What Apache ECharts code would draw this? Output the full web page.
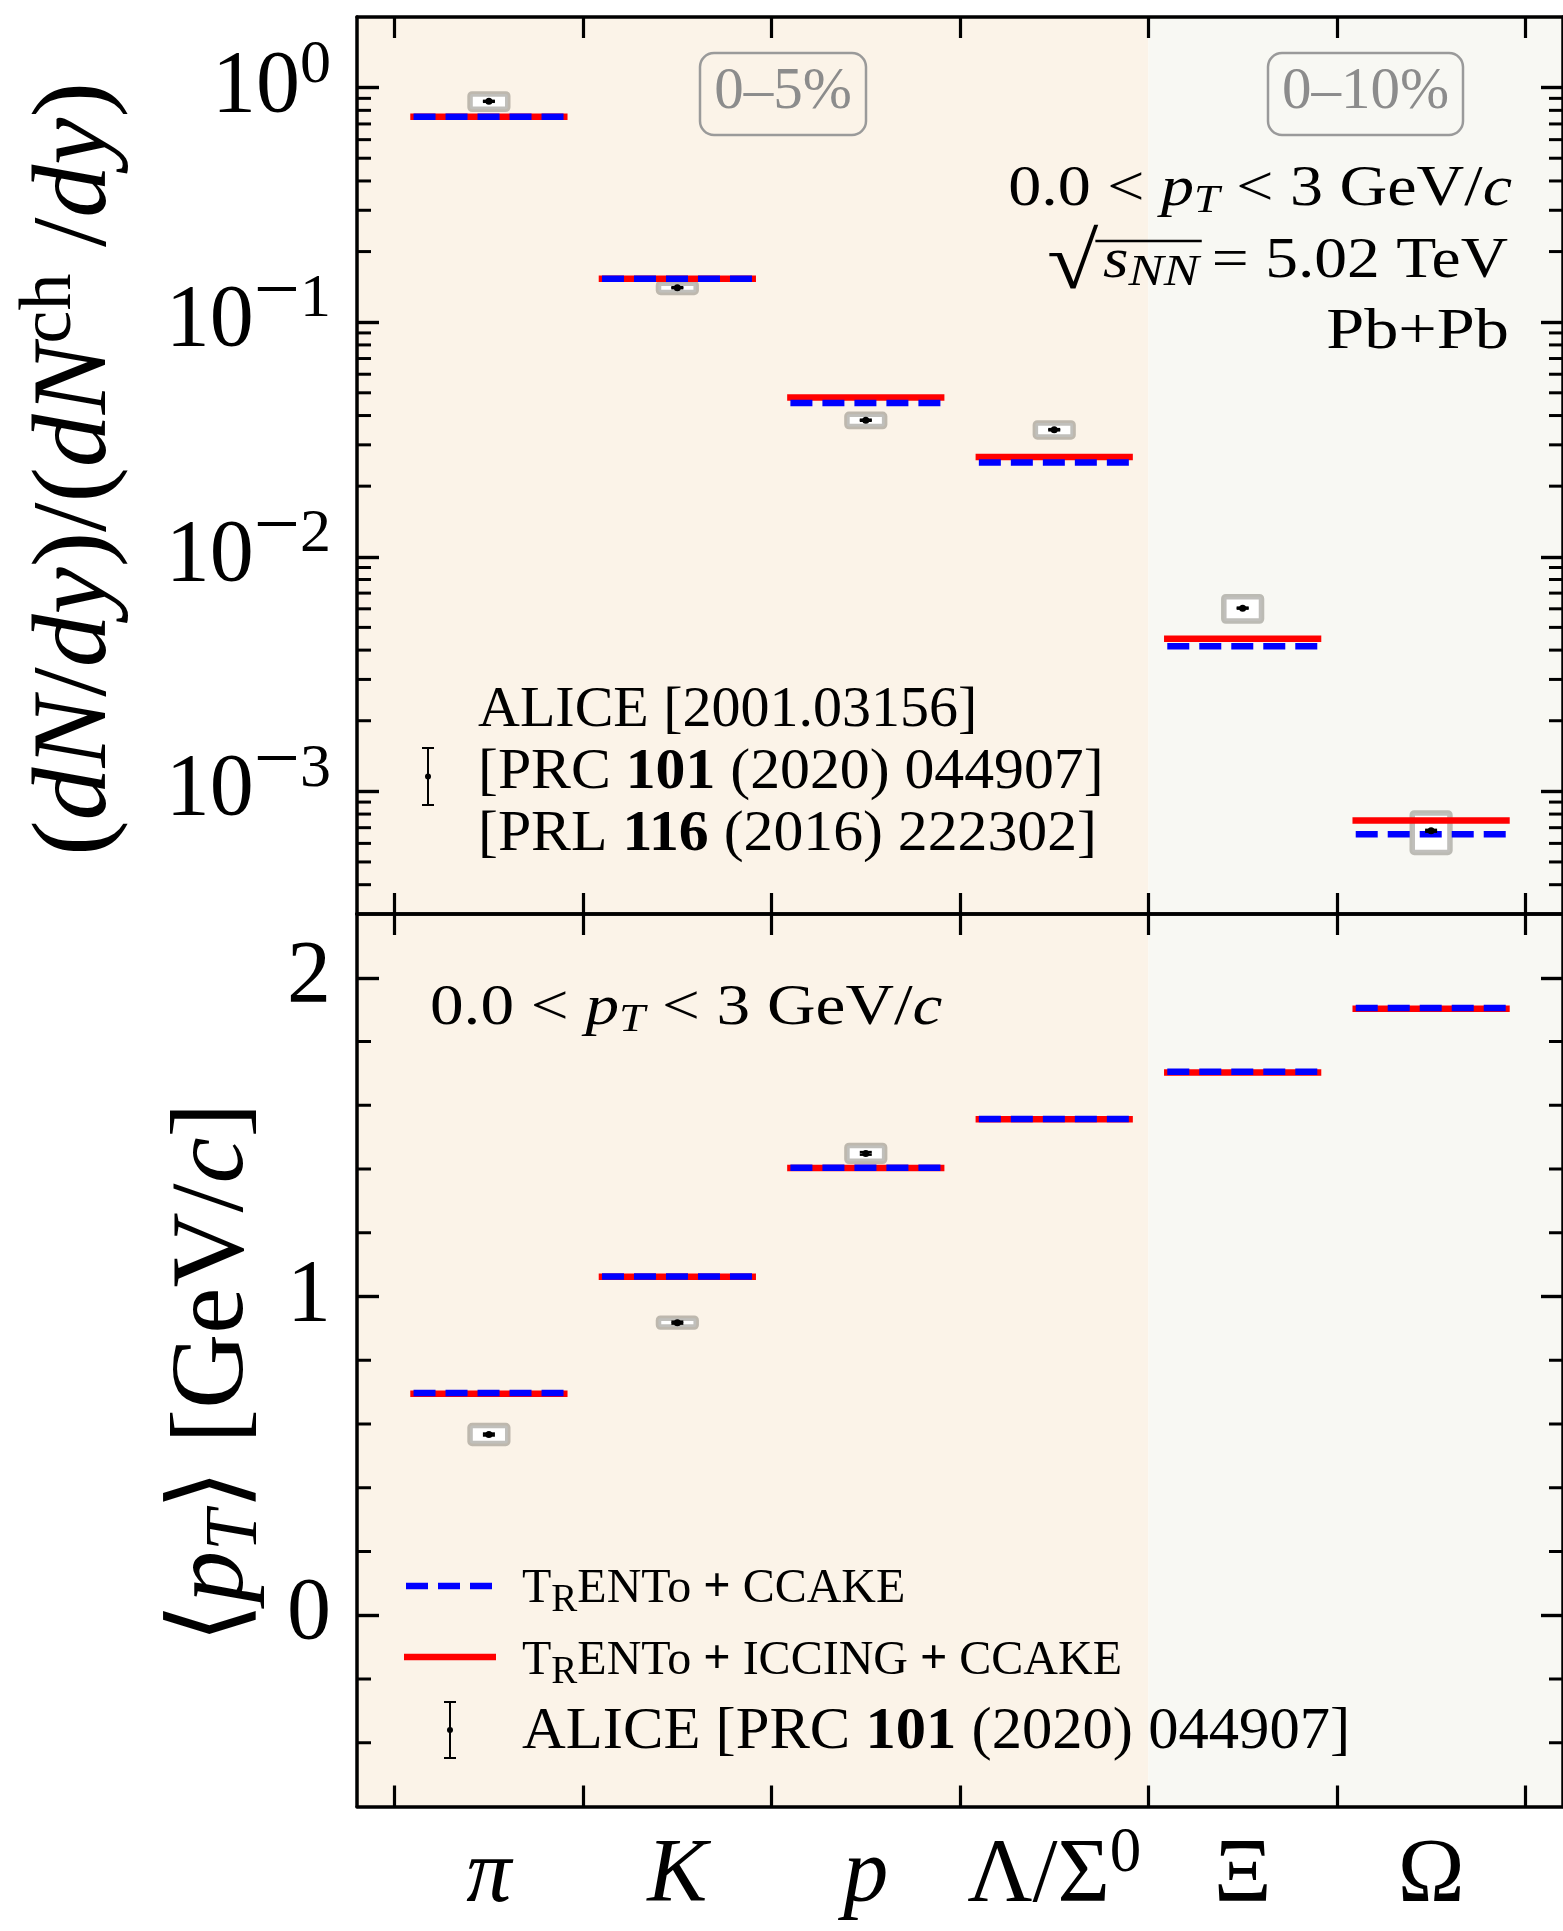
<!DOCTYPE html>
<html>
<head>
<meta charset="utf-8">
<script src="https://cdn.jsdelivr.net/npm/echarts@6/dist/echarts.min.js"></script>
<style>
  html, body { margin: 0; padding: 0; background: #ffffff; }
  #chart { width: 1563px; height: 1931px; }
</style>
</head>
<body>
<div id="chart"></div>
<script>
// ---- Hadron species: bin i spans [i, i+1] on the x axis ----
const speciesLabels = ['{it|π}', '{it|K}', '{it|p}', '{rm|Λ/Σ}{sup|0}', '{rm|Ξ}', '{rm|Ω}'];
const xTicks = [0, 1, 2, 3, 4, 5, 6];

// ---- Yield ratios (dN/dy)/(dN^ch/dy) ----
const yieldIccing = [0.752, 0.153, 0.0478, 0.0266, 0.00447, 0.000751];
const yieldTrento = [0.752, 0.153, 0.0452, 0.0252, 0.00415, 0.000657];
const yieldAlice = [0.874, 0.1403, 0.0382, 0.0348, 0.00604, 0.000679];
const yieldAliceSys = [0.066, 0.0063, 0.0023, 0.0024, 0.00072, 0.00013];
const yieldAliceStat = [0.004, 0.0006, 0.0002, 0.0002, 0.00003, 0.000006];

// ---- Mean transverse momentum <pT> [GeV/c] ----
const meanPtIccing = [0.695, 1.062, 1.403, 1.556, 1.703, 1.903];
const meanPtTrento = [0.697, 1.063, 1.404, 1.557, 1.705, 1.905];
const meanPtAlice = [0.567, 0.918, 1.449];
const meanPtAliceSys = [0.028, 0.014, 0.025];
const meanPtAliceStat = [0.003, 0.003, 0.004];

// ---- Axis ticks ----
const logMajorTicks = [1e-3, 1e-2, 1e-1, 1];
const logMinorTicks = [4e-4, 5e-4, 6e-4, 7e-4, 8e-4, 9e-4,
  2e-3, 3e-3, 4e-3, 5e-3, 6e-3, 7e-3, 8e-3, 9e-3,
  2e-2, 3e-2, 4e-2, 5e-2, 6e-2, 7e-2, 8e-2, 9e-2,
  0.2, 0.3, 0.4, 0.5, 0.6, 0.7, 0.8, 0.9];
const linMajorTicks = [0, 1, 2];
const linMinorTicks = [-0.4, -0.2, 0.2, 0.4, 0.6, 0.8, 1.2, 1.4, 1.6, 1.8];

// ---- Centrality classes shading the x range ----
const centralityBands = [[-0.2, 4], [4, 6.2]];
const bandFills = ['#fbf3e8', '#f8f8f3'];

const SERIF = "'Liberation Serif', 'DejaVu Serif', serif";

// Rich-text styles for math-like labels. Graphic elements take `fill`, axis labels `color`.
function richSet(size, useFill, color) {
  color = color || '#000';
  const c = useFill ? { fill: color } : { color: color };
  const lh = Math.round(size * 1.3);
  const small = Math.round(size * 0.7);
  const base = Object.assign({ fontFamily: SERIF, fontSize: size, lineHeight: lh }, c);
  return {
    rm: Object.assign({}, base),
    it: Object.assign({}, base, { fontStyle: 'italic' }),
    itS: Object.assign({}, base, { fontStyle: 'italic', padding: [0, 0, 0, Math.round(size * 0.08)] }),
    bf: Object.assign({}, base, { fontWeight: 'bold' }),
    sub: Object.assign({}, base, { fontSize: small, padding: [Math.round(size * 0.42), 0, 0, 0] }),
    subR: Object.assign({}, base, { fontSize: Math.round(size * 0.82), padding: [Math.round(size * 0.5), 0, 0, 0] }),
    itsub: Object.assign({}, base, { fontSize: small, fontStyle: 'italic', padding: [Math.round(size * 0.42), 0, 0, 0] }),
    itsubL: Object.assign({}, base, { fontSize: Math.round(size * 0.8), fontStyle: 'italic', padding: [Math.round(size * 0.4), 0, 0, 0] }),
    sup: Object.assign({}, base, { fontSize: small, padding: [0, 0, Math.round(size * 0.5), 0] }),
    supMinus: Object.assign({}, base, { fontSize: Math.round(size * 0.93), padding: [0, 0, Math.round(size * 0.62), 0] }),
    sq: Object.assign({}, base, { fontSize: Math.round(size * 1.43), padding: [Math.round(size * 0.16), 0, 0, 0] })
  };
}

// ---- Axes (frame with inward major ticks on all four sides) ----
const frameLine = { show: true, onZero: false, lineStyle: { color: '#000', width: 3.5 } };
const xAxes = [];
[0, 1].forEach(function (g) {
  ['bottom', 'top'].forEach(function (pos) {
    const withLabels = g === 1 && pos === 'bottom';
    xAxes.push({
      type: 'value', gridIndex: g, position: pos, min: -0.2, max: 6.2, z: 10,
      axisLine: frameLine,
      axisTick: { show: true, inside: true, length: 21, customValues: xTicks, lineStyle: { color: '#000', width: 3.2 } },
      axisLabel: withLabels ? {
        show: true, margin: 12,
        customValues: speciesLabels.map(function (_, i) { return i + 0.5; }),
        formatter: function (v) { return speciesLabels[Math.round(v - 0.5)]; },
        rich: richSet(90, false)
      } : { show: false },
      splitLine: { show: false }
    });
  });
});

function logLabel(v) {
  const e = Math.round(Math.log10(v));
  return e === 0 ? '{rm|10}{sup|0}' : '{rm|10}{supMinus|−}{sup|' + (-e) + '}';
}

const yAxes = [];
[0, 1].forEach(function (g) {
  const isLog = g === 0;
  const common = isLog
    ? { type: 'log', logBase: 10, min: 3e-4, max: 2 }
    : { type: 'value', min: -0.6, max: 2.2 };
  const major = isLog ? logMajorTicks : linMajorTicks;
  ['left', 'right'].forEach(function (pos) {
    yAxes.push(Object.assign({}, common, {
      gridIndex: g, position: pos, z: 10,
      axisLine: frameLine,
      axisTick: { show: true, inside: true, length: 22, customValues: major, lineStyle: { color: '#000', width: 3.4 } },
      axisLabel: pos === 'left' ? {
        show: true, margin: 26, customValues: major,
        formatter: isLog ? logLabel : function (v) { return '{rm|' + v + '}'; },
        rich: richSet(88, false)
      } : { show: false },
      splitLine: { show: false }
    }));
  });
});

// ---- Series builders ----
function bandSeries(g) {
  const yRef = g === 0 ? 1 : 0;
  return {
    type: 'custom', xAxisIndex: g * 2, yAxisIndex: g * 2, z: 1, silent: true,
    data: centralityBands,
    renderItem: function (params, api) {
      const cs = params.coordSys;
      const x0 = api.coord([api.value(0), yRef])[0];
      const x1 = api.coord([api.value(1), yRef])[0];
      return { type: 'rect', shape: { x: x0, y: cs.y, width: x1 - x0, height: cs.height },
               style: { fill: bandFills[params.dataIndex] } };
    }
  };
}

function modelSeries(g, values, style, z) {
  return {
    type: 'custom', xAxisIndex: g * 2, yAxisIndex: g * 2, z: z, silent: true,
    data: values.map(function (v, i) { return [i, v]; }),
    renderItem: function (params, api) {
      const i = api.value(0), v = api.value(1);
      const a = api.coord([i + 0.1, v]), b = api.coord([i + 0.9, v]);
      return { type: 'line', shape: { x1: a[0], y1: a[1], x2: b[0], y2: b[1] }, style: style };
    }
  };
}

function sysBoxSeries(g, values, sys) {
  return {
    type: 'custom', xAxisIndex: g * 2, yAxisIndex: g * 2, z: 2, silent: true,
    data: values.map(function (v, i) { return [i, v, sys[i]]; }),
    renderItem: function (params, api) {
      const i = api.value(0), v = api.value(1), s = api.value(2);
      const tl = api.coord([i + 0.4, v + s]), br = api.coord([i + 0.6, v - s]);
      return { type: 'rect', shape: { x: tl[0], y: tl[1], width: br[0] - tl[0], height: br[1] - tl[1], r: 2 },
               style: { fill: '#ffffff', stroke: 'rgba(115,112,105,0.45)', lineWidth: 5.5 } };
    }
  };
}

function errorBarSeries(g, values, stat) {
  return {
    type: 'custom', xAxisIndex: g * 2, yAxisIndex: g * 2, z: 6, silent: true,
    data: values.map(function (v, i) { return [i, v, stat[i]]; }),
    renderItem: function (params, api) {
      const i = api.value(0), v = api.value(1), s = api.value(2);
      const c = api.coord([i + 0.5, v]);
      const up = api.coord([i + 0.5, v + s]), dn = api.coord([i + 0.5, v - s]);
      return { type: 'group', children: [
        { type: 'line', shape: { x1: c[0], y1: up[1], x2: c[0], y2: dn[1] }, style: { stroke: '#000', lineWidth: 2.5 } },
        { type: 'line', shape: { x1: c[0] - 6, y1: up[1], x2: c[0] + 6, y2: up[1] }, style: { stroke: '#000', lineWidth: 2.5 } },
        { type: 'line', shape: { x1: c[0] - 6, y1: dn[1], x2: c[0] + 6, y2: dn[1] }, style: { stroke: '#000', lineWidth: 2.5 } },
        { type: 'circle', shape: { cx: c[0], cy: c[1], r: 3.5 }, style: { fill: '#000' } }
      ] };
    }
  };
}

const redStyle = { stroke: '#ff0000', lineWidth: 6.5, lineCap: 'square' };
const blueStyle = { stroke: '#0000ff', lineWidth: 6.5, lineCap: 'butt', lineDash: [22, 10] };

const series = [
  bandSeries(0), bandSeries(1),
  sysBoxSeries(0, yieldAlice, yieldAliceSys), sysBoxSeries(1, meanPtAlice, meanPtAliceSys),
  modelSeries(0, yieldIccing, redStyle, 3), modelSeries(1, meanPtIccing, redStyle, 3),
  modelSeries(0, yieldTrento, blueStyle, 4), modelSeries(1, meanPtTrento, blueStyle, 4),
  errorBarSeries(0, yieldAlice, yieldAliceStat), errorBarSeries(1, meanPtAlice, meanPtAliceStat)
];

// ---- Text, legends and annotations ----
function text(x, y, str, size, opts) {
  opts = opts || {};
  return {
    type: 'text', x: x, y: y, z: 20, silent: true,
    rotation: opts.rotation || 0, scaleX: opts.scaleX || 1,
    style: { text: str, align: opts.align || 'left', verticalAlign: 'middle',
             rich: richSet(size, true, opts.color), fontFamily: SERIF, fontSize: size }
  };
}
function seg(x1, y1, x2, y2, style) {
  return { type: 'line', z: 20, silent: true, shape: { x1: x1, y1: y1, x2: x2, y2: y2 }, style: style };
}
function errIcon(x, y0, y1) {
  const st = { stroke: '#000', lineWidth: 2 };
  return [
    seg(x, y0, x, y1, st), seg(x - 6, y0, x + 6, y0, st), seg(x - 6, y1, x + 6, y1, st),
    { type: 'circle', z: 20, silent: true, shape: { cx: x, cy: (y0 + y1) / 2, r: 3 }, style: { fill: '#000' } }
  ];
}
function tagBox(x0, y0, x1, y1, label) {
  return [
    { type: 'rect', z: 20, silent: true, shape: { x: x0, y: y0, width: x1 - x0, height: y1 - y0, r: 14 },
      style: { fill: 'none', stroke: '#9a9a9a', lineWidth: 2.5 } },
    text((x0 + x1) / 2, (y0 + y1) / 2 - 2, '{rm|' + label + '}', 59, { align: 'center', color: '#8c8c8c' })
  ];
}

// Collision-energy label: the radical's bar is placed from measured glyph widths
const measureCtx = document.createElement('canvas').getContext('2d');
function textWidth(font, s) { measureCtx.font = font; return measureCtx.measureText(s).width; }
const eSize = 56, eLeft = 1047, eRight = 1508;
const eTail = '\u2009= 5.02 TeV';
const wSq = textWidth(Math.round(eSize * 1.43) + 'px ' + SERIF, '√');
const wS = textWidth('italic ' + eSize + 'px ' + SERIF, 's') + Math.round(eSize * 0.08);
const wNN = textWidth('italic ' + Math.round(eSize * 0.8) + 'px ' + SERIF, 'NN');
const wTail = textWidth(eSize + 'px ' + SERIF, eTail);
const eScale = (eRight - eLeft) / (wSq + wS + wNN + wTail);
const barStart = eLeft + wSq * eScale - 3;
const barEnd = eLeft + (wSq + wS + wNN) * eScale + 3;

const graphic = [].concat(
  [
    text(77, 469, '{rm|(}{it|dN}{rm|/}{it|dy}{rm|)/(}{it|dN}{sup|ch}{rm| /}{it|dy}{rm|)}', 106,
         { rotation: Math.PI / 2, align: 'center' }),
    text(215, 1373, '{rm|⟨}{it|p}{itsub|T}{rm|⟩ [GeV/}{it|c}{rm|]}', 104,
         { rotation: Math.PI / 2, align: 'center' }),

    text(1512, 190, '{rm|0.0 < }{it|p}{itsub|T}{rm| < 3 GeV/}{it|c}', 56, { align: 'right', scaleX: 1.18 }),
    text(eLeft, 262, '{sq|√}{itS|s}{itsubL|NN}{rm|' + eTail + '}', eSize, { scaleX: eScale }),
    seg(barStart, 241, barEnd, 241, { stroke: '#000', lineWidth: 2.5 }),
    text(1509, 333, '{rm|Pb+Pb}', 56, { align: 'right', scaleX: 1.22 }),

    text(430, 1009, '{rm|0.0 < }{it|p}{itsub|T}{rm| < 3 GeV/}{it|c}', 56, { scaleX: 1.2 }),

    text(478, 711, '{rm|ALICE [2001.03156]}', 58),
    text(478, 773, '{rm|[PRC }{bf|101}{rm| (2020) 044907]}', 58, { scaleX: 1.03 }),
    text(478, 835, '{rm|[PRL }{bf|116}{rm| (2016) 222302]}', 58, { scaleX: 1.03 }),

    seg(406, 1586, 494, 1586, { stroke: '#0000ff', lineWidth: 6.5, lineDash: [22, 10] }),
    seg(404, 1657, 496, 1657, { stroke: '#ff0000', lineWidth: 6.5 }),
    text(522, 1589, '{rm|T}{subR|R}{rm|ENTo }{bf|+}{rm| CCAKE}', 48),
    text(522, 1661, '{rm|T}{subR|R}{rm|ENTo }{bf|+}{rm| ICCING }{bf|+}{rm| CCAKE}', 48),
    text(522, 1732, '{rm|ALICE [PRC }{bf|101}{rm| (2020) 044907]}', 60, { scaleX: 1.01 })
  ],
  errIcon(428, 748, 805),
  errIcon(450, 1702, 1758),
  tagBox(700, 53, 866, 135, '0–5%'),
  tagBox(1268, 53, 1463, 135, '0–10%')
);

const chart = echarts.init(document.getElementById('chart'), null, { renderer: 'canvas', width: 1563, height: 1931 });
chart.setOption({
  backgroundColor: '#ffffff',
  animation: false,
  grid: [
    { left: 357, top: 17, width: 1213, height: 897, containLabel: false },
    { left: 357, top: 914, width: 1213, height: 898, containLabel: false }
  ],
  xAxis: xAxes,
  yAxis: yAxes,
  series: series,
  graphic: graphic
});

// Minor y ticks on both frame sides, positioned with each panel's own y scale
const minorTickEls = [];
[[0, logMinorTicks], [1, linMinorTicks]].forEach(function (entry) {
  const g = entry[0];
  const xl = chart.convertToPixel({ xAxisIndex: g * 2 }, -0.2);
  const xr = chart.convertToPixel({ xAxisIndex: g * 2 }, 6.2);
  entry[1].forEach(function (t) {
    const y = chart.convertToPixel({ yAxisIndex: g * 2 }, t);
    const st = { stroke: '#000', lineWidth: 3 };
    minorTickEls.push({ type: 'line', z: 30, silent: true, shape: { x1: xl, y1: y, x2: xl + 14, y2: y }, style: st });
    minorTickEls.push({ type: 'line', z: 30, silent: true, shape: { x1: xr, y1: y, x2: xr - 14, y2: y }, style: st });
  });
});
chart.setOption({ graphic: graphic.concat(minorTickEls) }, { replaceMerge: ['graphic'] });
</script>
</body>
</html>
